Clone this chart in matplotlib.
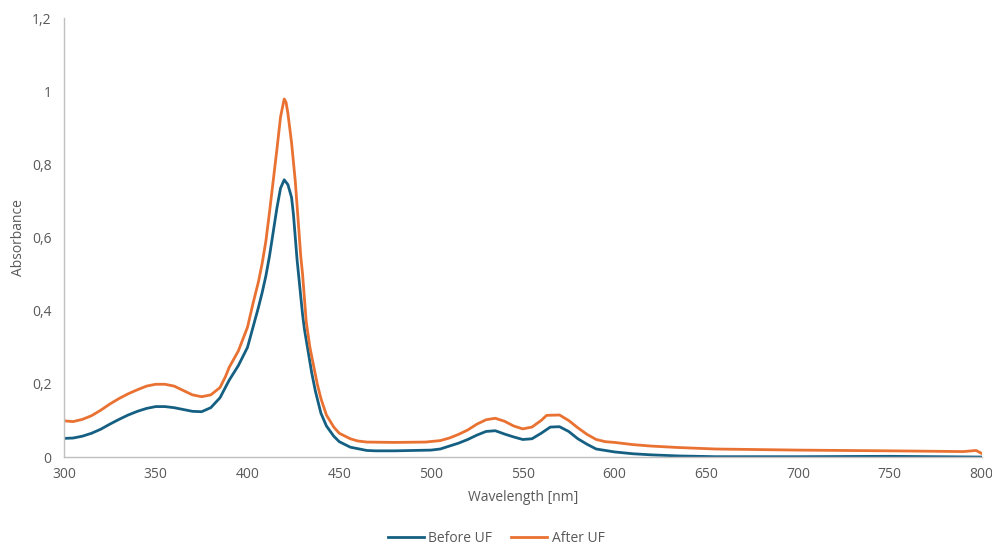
import matplotlib
matplotlib.use("Agg")
import matplotlib.pyplot as plt
from matplotlib.ticker import FuncFormatter, MultipleLocator

plt.rcParams["font.family"] = ["Open Sans", "DejaVu Sans"]

# UV-Vis spectra (wavelength in nm, absorbance)
before_wl = [300, 305, 310, 315, 320, 325, 330, 335, 340, 345, 350, 355, 360, 365, 370, 375,
             380, 385, 390, 395, 400, 403, 406, 408, 410, 412, 414, 416, 418, 420, 422, 424,
             425, 427, 428, 429, 430, 431, 433, 435, 437, 440, 443, 447, 450, 456, 465, 470,
             480, 490, 500, 505, 510, 515, 520, 525, 530, 535, 540, 545, 550, 555, 560, 565,
             570, 575, 580, 585, 590, 595, 600, 610, 620, 635, 655, 700, 750, 800]
before_abs = [0.051, 0.052, 0.057, 0.065, 0.076, 0.090, 0.103, 0.115, 0.125, 0.133, 0.138,
              0.138, 0.135, 0.130, 0.125, 0.124, 0.135, 0.162, 0.210, 0.250, 0.300, 0.355,
              0.410, 0.450, 0.495, 0.550, 0.615, 0.680, 0.735, 0.758, 0.745, 0.710, 0.665,
              0.540, 0.490, 0.440, 0.390, 0.350, 0.290, 0.230, 0.180, 0.120, 0.085, 0.057,
              0.042, 0.027, 0.018, 0.017, 0.017, 0.018, 0.019, 0.022, 0.030, 0.038, 0.048,
              0.060, 0.070, 0.072, 0.063, 0.055, 0.048, 0.050, 0.065, 0.082, 0.083, 0.070,
              0.050, 0.035, 0.022, 0.018, 0.014, 0.009, 0.006, 0.003, 0.001, 0.001, 0.002,
              0.000]

after_wl = [300, 305, 310, 315, 320, 325, 330, 335, 340, 345, 350, 355, 360, 365, 370, 375,
            380, 385, 388, 390, 395, 400, 403, 406, 408, 410, 412, 414, 416, 418, 420, 421,
            422, 424, 426, 428, 429, 430, 432, 434, 436, 438, 440, 443, 447, 450, 456, 460,
            465, 480, 497, 505, 510, 515, 520, 525, 530, 535, 540, 545, 550, 555, 560, 563,
            570, 575, 580, 585, 590, 595, 600, 610, 620, 635, 655, 700, 750, 790, 797, 800]
after_abs = [0.099, 0.097, 0.103, 0.113, 0.128, 0.145, 0.160, 0.173, 0.184, 0.194, 0.199,
             0.199, 0.194, 0.182, 0.170, 0.165, 0.170, 0.190, 0.220, 0.245, 0.290, 0.355,
             0.420, 0.480, 0.530, 0.590, 0.670, 0.755, 0.840, 0.930, 0.979, 0.970, 0.940,
             0.860, 0.756, 0.620, 0.550, 0.500, 0.370, 0.300, 0.250, 0.200, 0.160, 0.115,
             0.082, 0.065, 0.050, 0.044, 0.041, 0.040, 0.041, 0.045, 0.052, 0.062, 0.074,
             0.090, 0.102, 0.106, 0.098, 0.085, 0.077, 0.082, 0.100, 0.114, 0.115, 0.100,
             0.080, 0.062, 0.048, 0.042, 0.040, 0.034, 0.030, 0.026, 0.022, 0.019, 0.017,
             0.015, 0.018, 0.010]

BLUE = "#156082"
ORANGE = "#E97132"
GREY_TEXT = "#595959"
GREY_AXIS = "#BFBFBF"


def comma_fmt(v, _pos):
    return f"{v:g}".replace(".", ",")


fig = plt.figure(figsize=(9.92, 5.5), dpi=100)
ax = fig.add_axes([0.0645, 0.169, 0.925, 0.798])

ax.plot(before_wl, before_abs, color=BLUE, lw=2.0, label="Before UF")
ax.plot(after_wl, after_abs, color=ORANGE, lw=2.0, label="After UF")

ax.set_xlim(300, 800)
ax.set_ylim(0, 1.2)
ax.xaxis.set_major_locator(MultipleLocator(50))
ax.yaxis.set_major_locator(MultipleLocator(0.2))
ax.yaxis.set_major_formatter(FuncFormatter(comma_fmt))

for side in ("top", "right"):
    ax.spines[side].set_visible(False)
for side in ("left", "bottom"):
    ax.spines[side].set_color(GREY_AXIS)
    ax.spines[side].set_linewidth(1.0)

ax.tick_params(length=0, labelsize=10, labelcolor=GREY_TEXT)
ax.tick_params(axis="x", pad=7)
ax.tick_params(axis="y", pad=9)

ax.set_xlabel("Wavelength [nm]", fontsize=10, color=GREY_TEXT, labelpad=6)
ax.set_ylabel("Absorbance", fontsize=10, color=GREY_TEXT, labelpad=4)

fig.legend(loc="lower center", bbox_to_anchor=(0.5, -0.015), ncol=2, frameon=False,
           fontsize=10, labelcolor=GREY_TEXT, handlelength=2.6, handletextpad=0.3,
           columnspacing=1.4)

fig.savefig("out.png", dpi=100, facecolor="white")
